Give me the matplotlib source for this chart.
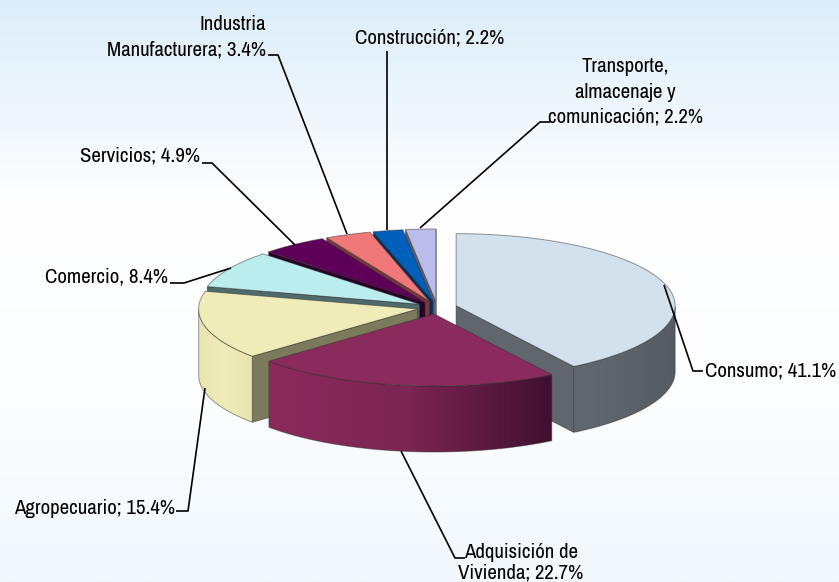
import numpy as np
import matplotlib
matplotlib.use('Agg')
import matplotlib.pyplot as plt
from matplotlib.colors import LinearSegmentedColormap
from matplotlib.patches import Polygon

plt.rcParams['font.family'] = ['Archivo Narrow', 'Roboto Condensed', 'Liberation Sans']

# pie data, clockwise from north
categories = ['Consumo', 'Adquisición de Vivienda', 'Agropecuario', 'Comercio', 'Servicios',
              'Industria Manufacturera', 'Construcción', 'Transporte, almacenaje y comunicación']
values = [41.1, 22.7, 15.4, 8.4, 4.9, 3.4, 2.2, 2.2]
top_colors = ['#d3e1ec', '#8b2a5c', '#eeecb9', '#bbecee', '#5f0058', '#f07878', '#0060bb', '#bcbcec']
side_colors = ['#5f666d', '#5a1a3c', '#7b7a5c', '#4f6a6c', '#2a0028', '#7a3a3a', '#003060', '#5e5e76']
wall_shades = [['#61686f', '#5c636a', '#555b62'],
               ['#8b2a5c', '#7a2552', '#3f1030'],
               ['#e8e5ae', '#efecbb', '#e6e3ac'],
               ['#4f6a6c'] * 3, ['#2a0028'] * 3, ['#7a3a3a'] * 3, ['#003060'] * 3, ['#5e5e76'] * 3]
draw_order = [7, 6, 5, 4, 3, 2, 0, 1]

# labels: text, x, y, horizontal alignment, line spacing
label_texts = ['Consumo; 41.1%', 'Adquisición de\nVivienda; 22.7%', 'Agropecuario; 15.4%', 'Comercio, 8.4%',
               'Servicios; 4.9%', 'Industria\nManufacturera; 3.4%', 'Construcción; 2.2%',
               'Transporte,\nalmacenaje y\ncomunicación; 2.2%']
label_x = [705, 521, 14, 45, 80, 266, 355, 625]
label_y = [371, 563, 508, 277, 156, 37, 38, 92]
label_ha = ['left', 'center', 'left', 'left', 'left', 'right', 'left', 'center']
label_spacing = [1.2, 1.08, 1.2, 1.2, 1.2, 1.42, 1.2, 1.42]
leaders = [[(664, 285), (693, 371), (703, 371)],
           [(401, 451), (455, 558), (465, 558)],
           [(205, 388), (188, 511), (176, 511)],
           [(231, 268), (184, 283), (170, 283)],
           [(295, 245), (212, 163), (202, 163)],
           [(347, 234), (278, 55), (268, 55)],
           [(387, 230), (387, 51)],
           [(420, 228), (540, 122), (550, 122)]]

# pie geometry in pixels
cx, cy = 437, 307.5
rx, ry = 219, 72
depth = 66
explode = 0.091

fig = plt.figure(figsize=(8.39, 5.82), dpi=100)
ax = fig.add_axes([0, 0, 1, 1])
ax.set_xlim(0, 839)
ax.set_ylim(582, 0)
ax.autoscale(False)
ax.axis('off')

# background gradient
bg = LinearSegmentedColormap.from_list('bg', [(0, '#dcedf9'), (0.36, '#ffffff'), (0.7, '#fbfdff'), (1, '#f1f8fe')])
ax.imshow(np.linspace(0, 1, 256)[:, None], cmap=bg, extent=[0, 839, 582, 0], aspect='auto', zorder=0)


def point(a, ox, oy, r=1.0):
    return ox + r * rx * np.sin(a), oy - r * ry * np.cos(a)


total = sum(values)
edges = np.radians(np.concatenate([[0], np.cumsum(values)]) / total * 360)
z = 1
line = dict(edgecolor='#30303080', linewidth=0.7)

for i in draw_order:
    a0, a1 = edges[i], edges[i + 1]
    mid = (a0 + a1) / 2
    ox, oy = point(mid, cx, cy, explode)
    arc = np.linspace(a0, a1, 120)
    ax_, ay_ = point(arc, ox, oy)

    # radial faces turned to the viewer
    for a, visible in [(a0, np.sin(a0) < 0), (a1, np.sin(a1) > 0)]:
        if visible:
            px, py = point(a, ox, oy)
            ax.add_patch(Polygon([(ox, oy), (px, py), (px, py + depth), (ox, oy + depth)],
                                 facecolor=side_colors[i], zorder=z, **line))
            z += 1

    # outer wall, a horizontal gradient clipped to the wall shape
    wall = (arc > np.pi / 2) & (arc < 3 * np.pi / 2)
    if wall.sum() > 1:
        wx, wy = ax_[wall], ay_[wall]
        shape = Polygon(np.column_stack([np.r_[wx, wx[::-1]], np.r_[wy, wy[::-1] + depth]]),
                        facecolor='none', zorder=z + 0.5, **line)
        ax.add_patch(shape)
        cmap = LinearSegmentedColormap.from_list('wall%d' % i, wall_shades[i])
        im = ax.imshow(np.linspace(0, 1, 256)[None, :], cmap=cmap, aspect='auto', zorder=z,
                       extent=[wx.min(), wx.max(), wy.max() + depth, wy.min()])
        im.set_clip_path(shape)
        z += 1

    # top face
    ax.add_patch(Polygon(np.column_stack([np.r_[ox, ax_], np.r_[oy, ay_]]),
                         facecolor=top_colors[i], zorder=z, **line))
    z += 1

for pts in leaders:
    xs, ys = zip(*pts)
    ax.plot(xs, ys, color='black', linewidth=1.2, zorder=50, solid_capstyle='butt')

for t, x, y, ha, sp in zip(label_texts, label_x, label_y, label_ha, label_spacing):
    ax.text(x, y, t, ha=ha, va='center', fontsize=15, color='black', linespacing=sp, zorder=60)

fig.savefig('out.png', dpi=100)
